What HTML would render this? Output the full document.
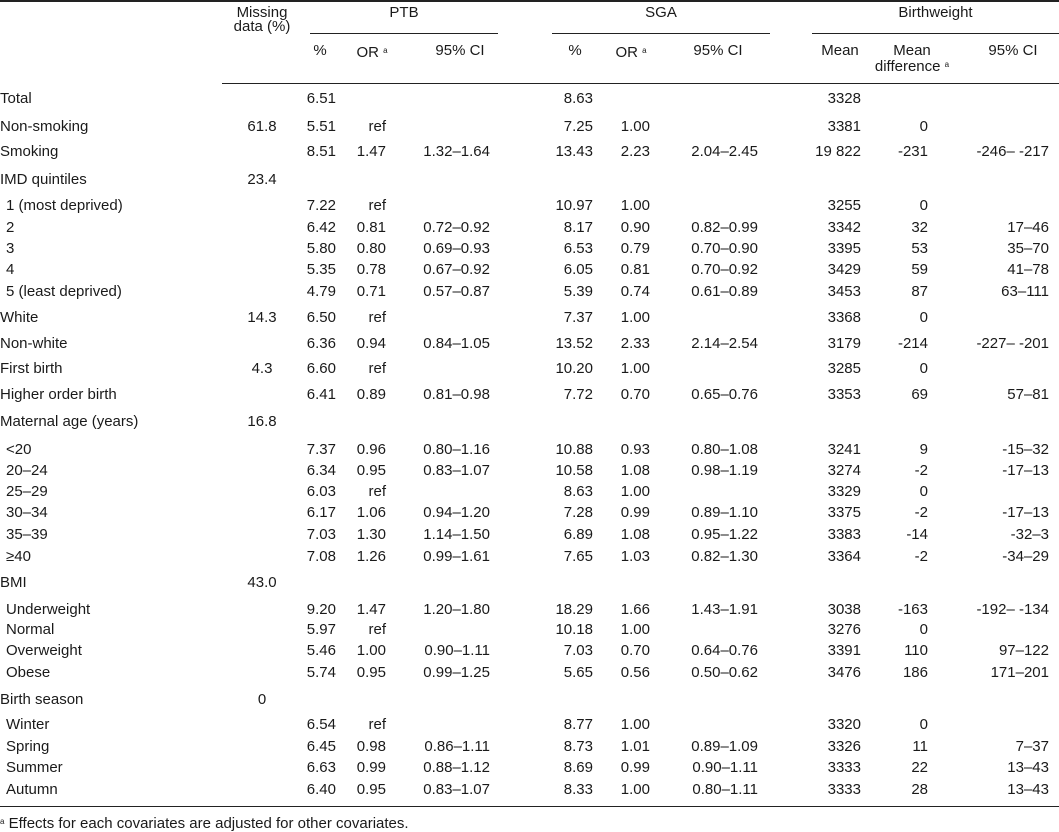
<!DOCTYPE html>
<html><head><meta charset="utf-8"><style>
body{margin:0;background:#fff;}
#c{position:relative;width:1059px;height:832px;overflow:hidden;font-family:"Liberation Sans",sans-serif;font-size:15px;color:#1a1a1a;}
.r{position:absolute;left:0;width:1059px;height:18px;line-height:18px;}
.r span{position:absolute;top:0;white-space:nowrap;}
.l{left:0}.s{left:6px}
.m{left:222px;width:80px;text-align:center}
.p1{right:723px}.p2{right:673px}.p3{right:569px}
.s1{right:466px}.s2{right:409px}.s3{right:301px}
.b1{right:198px}.b2{right:131px}.b3{right:10px}
.hl{position:absolute;height:1px;background:#222;}
.h{position:absolute;line-height:14px;text-align:center;white-space:nowrap;}
sup{font-size:8px;vertical-align:4px;}
</style></head><body><div id="c">
<div class="hl" style="left:0;top:0;width:1059px;height:2px"></div>
<div class="hl" style="left:310px;top:33px;width:188px"></div>
<div class="hl" style="left:552px;top:33px;width:218px"></div>
<div class="hl" style="left:812px;top:33px;width:247px"></div>
<div class="hl" style="left:222px;top:83px;width:837px"></div>
<div class="hl" style="left:0;top:806px;width:1059px"></div>

<div class="h" style="left:222px;width:80px;top:6px">Missing<br>data (%)</div>
<div class="h" style="left:310px;width:188px;top:6px">PTB</div>
<div class="h" style="left:552px;width:218px;top:6px">SGA</div>
<div class="h" style="left:812px;width:247px;top:6px">Birthweight</div>
<div class="h" style="left:300px;width:40px;top:44px">%</div>
<div class="h" style="left:342px;width:60px;top:44px">OR <sup>a</sup></div>
<div class="h" style="left:420px;width:80px;top:44px">95% CI</div>
<div class="h" style="left:555px;width:40px;top:44px">%</div>
<div class="h" style="left:601px;width:60px;top:44px">OR <sup>a</sup></div>
<div class="h" style="left:678px;width:80px;top:44px">95% CI</div>
<div class="h" style="left:815px;width:50px;top:44px">Mean</div>
<div class="h" style="left:870px;width:84px;top:44px">Mean<br>difference <sup>a</sup></div>
<div class="h" style="left:973px;width:80px;top:44px">95% CI</div>

<div class="r" style="top:90px"><span class="l">Total</span><span class="p1">6.51</span><span class="s1">8.63</span><span class="b1">3328</span></div>
<div class="r" style="top:118px"><span class="l">Non-smoking</span><span class="m">61.8</span><span class="p1">5.51</span><span class="p2">ref</span><span class="s1">7.25</span><span class="s2">1.00</span><span class="b1">3381</span><span class="b2">0</span></div>
<div class="r" style="top:143px"><span class="l">Smoking</span><span class="p1">8.51</span><span class="p2">1.47</span><span class="p3">1.32–1.64</span><span class="s1">13.43</span><span class="s2">2.23</span><span class="s3">2.04–2.45</span><span class="b1">19 822</span><span class="b2">-231</span><span class="b3">-246– -217</span></div>
<div class="r" style="top:171px"><span class="l">IMD quintiles</span><span class="m">23.4</span></div>
<div class="r" style="top:197px"><span class="s">1 (most deprived)</span><span class="p1">7.22</span><span class="p2">ref</span><span class="s1">10.97</span><span class="s2">1.00</span><span class="b1">3255</span><span class="b2">0</span></div>
<div class="r" style="top:219px"><span class="s">2</span><span class="p1">6.42</span><span class="p2">0.81</span><span class="p3">0.72–0.92</span><span class="s1">8.17</span><span class="s2">0.90</span><span class="s3">0.82–0.99</span><span class="b1">3342</span><span class="b2">32</span><span class="b3">17–46</span></div>
<div class="r" style="top:240px"><span class="s">3</span><span class="p1">5.80</span><span class="p2">0.80</span><span class="p3">0.69–0.93</span><span class="s1">6.53</span><span class="s2">0.79</span><span class="s3">0.70–0.90</span><span class="b1">3395</span><span class="b2">53</span><span class="b3">35–70</span></div>
<div class="r" style="top:261px"><span class="s">4</span><span class="p1">5.35</span><span class="p2">0.78</span><span class="p3">0.67–0.92</span><span class="s1">6.05</span><span class="s2">0.81</span><span class="s3">0.70–0.92</span><span class="b1">3429</span><span class="b2">59</span><span class="b3">41–78</span></div>
<div class="r" style="top:283px"><span class="s">5 (least deprived)</span><span class="p1">4.79</span><span class="p2">0.71</span><span class="p3">0.57–0.87</span><span class="s1">5.39</span><span class="s2">0.74</span><span class="s3">0.61–0.89</span><span class="b1">3453</span><span class="b2">87</span><span class="b3">63–111</span></div>
<div class="r" style="top:309px"><span class="l">White</span><span class="m">14.3</span><span class="p1">6.50</span><span class="p2">ref</span><span class="s1">7.37</span><span class="s2">1.00</span><span class="b1">3368</span><span class="b2">0</span></div>
<div class="r" style="top:335px"><span class="l">Non-white</span><span class="p1">6.36</span><span class="p2">0.94</span><span class="p3">0.84–1.05</span><span class="s1">13.52</span><span class="s2">2.33</span><span class="s3">2.14–2.54</span><span class="b1">3179</span><span class="b2">-214</span><span class="b3">-227– -201</span></div>
<div class="r" style="top:360px"><span class="l">First birth</span><span class="m">4.3</span><span class="p1">6.60</span><span class="p2">ref</span><span class="s1">10.20</span><span class="s2">1.00</span><span class="b1">3285</span><span class="b2">0</span></div>
<div class="r" style="top:386px"><span class="l">Higher order birth</span><span class="p1">6.41</span><span class="p2">0.89</span><span class="p3">0.81–0.98</span><span class="s1">7.72</span><span class="s2">0.70</span><span class="s3">0.65–0.76</span><span class="b1">3353</span><span class="b2">69</span><span class="b3">57–81</span></div>
<div class="r" style="top:413px"><span class="l">Maternal age (years)</span><span class="m">16.8</span></div>
<div class="r" style="top:441px"><span class="s">&lt;20</span><span class="p1">7.37</span><span class="p2">0.96</span><span class="p3">0.80–1.16</span><span class="s1">10.88</span><span class="s2">0.93</span><span class="s3">0.80–1.08</span><span class="b1">3241</span><span class="b2">9</span><span class="b3">-15–32</span></div>
<div class="r" style="top:462px"><span class="s">20–24</span><span class="p1">6.34</span><span class="p2">0.95</span><span class="p3">0.83–1.07</span><span class="s1">10.58</span><span class="s2">1.08</span><span class="s3">0.98–1.19</span><span class="b1">3274</span><span class="b2">-2</span><span class="b3">-17–13</span></div>
<div class="r" style="top:483px"><span class="s">25–29</span><span class="p1">6.03</span><span class="p2">ref</span><span class="s1">8.63</span><span class="s2">1.00</span><span class="b1">3329</span><span class="b2">0</span></div>
<div class="r" style="top:504px"><span class="s">30–34</span><span class="p1">6.17</span><span class="p2">1.06</span><span class="p3">0.94–1.20</span><span class="s1">7.28</span><span class="s2">0.99</span><span class="s3">0.89–1.10</span><span class="b1">3375</span><span class="b2">-2</span><span class="b3">-17–13</span></div>
<div class="r" style="top:526px"><span class="s">35–39</span><span class="p1">7.03</span><span class="p2">1.30</span><span class="p3">1.14–1.50</span><span class="s1">6.89</span><span class="s2">1.08</span><span class="s3">0.95–1.22</span><span class="b1">3383</span><span class="b2">-14</span><span class="b3">-32–3</span></div>
<div class="r" style="top:548px"><span class="s">≥40</span><span class="p1">7.08</span><span class="p2">1.26</span><span class="p3">0.99–1.61</span><span class="s1">7.65</span><span class="s2">1.03</span><span class="s3">0.82–1.30</span><span class="b1">3364</span><span class="b2">-2</span><span class="b3">-34–29</span></div>
<div class="r" style="top:574px"><span class="l">BMI</span><span class="m">43.0</span></div>
<div class="r" style="top:601px"><span class="s">Underweight</span><span class="p1">9.20</span><span class="p2">1.47</span><span class="p3">1.20–1.80</span><span class="s1">18.29</span><span class="s2">1.66</span><span class="s3">1.43–1.91</span><span class="b1">3038</span><span class="b2">-163</span><span class="b3">-192– -134</span></div>
<div class="r" style="top:621px"><span class="s">Normal</span><span class="p1">5.97</span><span class="p2">ref</span><span class="s1">10.18</span><span class="s2">1.00</span><span class="b1">3276</span><span class="b2">0</span></div>
<div class="r" style="top:642px"><span class="s">Overweight</span><span class="p1">5.46</span><span class="p2">1.00</span><span class="p3">0.90–1.11</span><span class="s1">7.03</span><span class="s2">0.70</span><span class="s3">0.64–0.76</span><span class="b1">3391</span><span class="b2">110</span><span class="b3">97–122</span></div>
<div class="r" style="top:664px"><span class="s">Obese</span><span class="p1">5.74</span><span class="p2">0.95</span><span class="p3">0.99–1.25</span><span class="s1">5.65</span><span class="s2">0.56</span><span class="s3">0.50–0.62</span><span class="b1">3476</span><span class="b2">186</span><span class="b3">171–201</span></div>
<div class="r" style="top:691px"><span class="l">Birth season</span><span class="m">0</span></div>
<div class="r" style="top:716px"><span class="s">Winter</span><span class="p1">6.54</span><span class="p2">ref</span><span class="s1">8.77</span><span class="s2">1.00</span><span class="b1">3320</span><span class="b2">0</span></div>
<div class="r" style="top:738px"><span class="s">Spring</span><span class="p1">6.45</span><span class="p2">0.98</span><span class="p3">0.86–1.11</span><span class="s1">8.73</span><span class="s2">1.01</span><span class="s3">0.89–1.09</span><span class="b1">3326</span><span class="b2">11</span><span class="b3">7–37</span></div>
<div class="r" style="top:759px"><span class="s">Summer</span><span class="p1">6.63</span><span class="p2">0.99</span><span class="p3">0.88–1.12</span><span class="s1">8.69</span><span class="s2">0.99</span><span class="s3">0.90–1.11</span><span class="b1">3333</span><span class="b2">22</span><span class="b3">13–43</span></div>
<div class="r" style="top:781px"><span class="s">Autumn</span><span class="p1">6.40</span><span class="p2">0.95</span><span class="p3">0.83–1.07</span><span class="s1">8.33</span><span class="s2">1.00</span><span class="s3">0.80–1.11</span><span class="b1">3333</span><span class="b2">28</span><span class="b3">13–43</span></div>
<div class="r" style="top:813px"><span class="l"><sup>a</sup> Effects for each covariates are adjusted for other covariates.</span></div>
</div></body></html>
